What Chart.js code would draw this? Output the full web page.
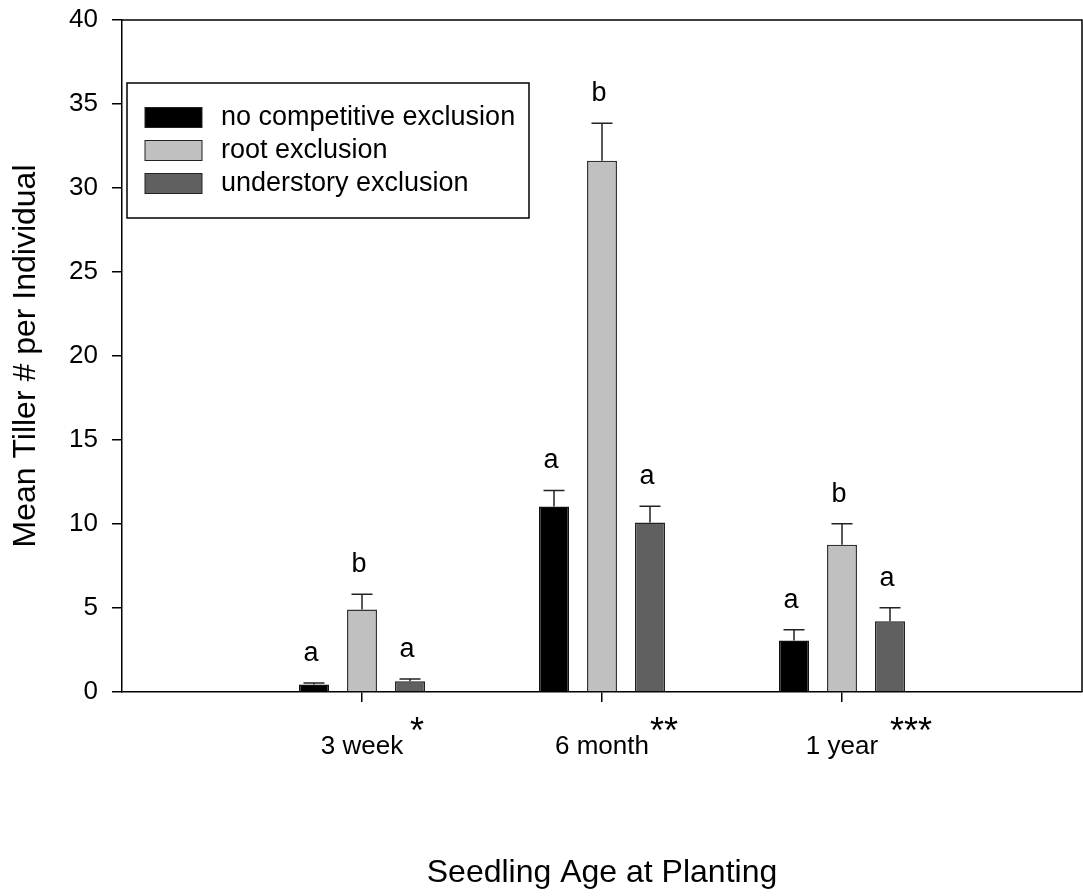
<!DOCTYPE html>
<html>
<head>
<meta charset="utf-8">
<script src="https://cdn.jsdelivr.net/npm/chart.js@4.4.1/dist/chart.umd.min.js"></script>
<style>
  html, body { margin: 0; padding: 0; background: #ffffff; }
  #wrap { width: 1083px; height: 896px; }
</style>
</head>
<body>
<div id="wrap"><canvas id="c" width="1083" height="896"></canvas></div>
<script>
// Seedling age groups (empty slots pad the axis on both sides)
const categories = ['', '3 week', '6 month', '1 year', ''];
const significance = ['', '*', '**', '***', ''];

// Mean tiller counts per individual
const noExclusion = [null, 0.44, 11.04, 3.06, null];
const rootExclusion = [null, 4.91, 31.62, 8.76, null];
const understoryExclusion = [null, 0.64, 10.09, 4.21, null];

// Standard errors (upper bars only)
const noExclusionSE = [null, 0.10, 0.96, 0.65, null];
const rootExclusionSE = [null, 0.91, 2.23, 1.25, null];
const understoryExclusionSE = [null, 0.13, 0.97, 0.81, null];

// Post-hoc group letters
const noExclusionLetters = ['', 'a', 'a', 'a', ''];
const rootExclusionLetters = ['', 'b', 'b', 'b', ''];
const understoryExclusionLetters = ['', 'a', 'a', 'a', ''];

const yTicks = [0, 5, 10, 15, 20, 25, 30, 35, 40];

const FONT = '"Liberation Sans", Arial, Helvetica, sans-serif';

// Error bars and significance letters drawn on top of each bar
const errorBarPlugin = {
  id: 'errorBars',
  afterDatasetsDraw(chart) {
    const ctx = chart.ctx;
    const y = chart.scales.y;
    chart.data.datasets.forEach((ds, di) => {
      const meta = chart.getDatasetMeta(di);
      meta.data.forEach((bar, i) => {
        const v = ds.data[i];
        if (v === null || v === undefined) return;
        const se = ds.se[i];
        const top = y.getPixelForValue(v + se);
        const base = y.getPixelForValue(v);
        ctx.save();
        ctx.strokeStyle = '#222';
        ctx.lineWidth = 1.5;
        ctx.beginPath();
        ctx.moveTo(bar.x, base);
        ctx.lineTo(bar.x, top);
        ctx.moveTo(bar.x - 10.5, top);
        ctx.lineTo(bar.x + 10.5, top);
        ctx.stroke();
        ctx.fillStyle = '#000';
        ctx.font = '27px ' + FONT;
        ctx.textAlign = 'center';
        ctx.textBaseline = 'alphabetic';
        ctx.fillText(ds.letters[i], bar.x - 3, top - 22);
        ctx.restore();
      });
    });
  }
};

// Closed frame plus the raised significance asterisks beside the age labels
const framePlugin = {
  id: 'frame',
  afterDraw(chart) {
    const ctx = chart.ctx;
    const a = chart.chartArea;
    ctx.save();
    ctx.strokeStyle = '#000';
    ctx.lineWidth = 1.5;
    ctx.beginPath();
    ctx.moveTo(a.left, a.top);
    ctx.lineTo(a.right, a.top);
    ctx.lineTo(a.right, a.bottom);
    ctx.stroke();

    const xs = chart.scales.x;
    ctx.fillStyle = '#000';
    ctx.font = '36px ' + FONT;
    ctx.textAlign = 'left';
    ctx.textBaseline = 'middle';
    categories.forEach((lab, i) => {
      if (!significance[i]) return;
      const px = xs.getPixelForTick(i);
      ctx.fillText(significance[i], px + 48, 733);
    });
    ctx.restore();
  }
};

// Boxed legend inside the upper left of the plot
const boxLegendPlugin = {
  id: 'boxLegend',
  afterDraw(chart) {
    const ctx = chart.ctx;
    const a = chart.chartArea;
    const bx = a.left + 5, by = a.top + 63, bw = 402, bh = 135;
    ctx.save();
    ctx.fillStyle = '#fff';
    ctx.fillRect(bx, by, bw, bh);
    ctx.strokeStyle = '#000';
    ctx.lineWidth = 1.5;
    ctx.strokeRect(bx, by, bw, bh);
    ctx.font = '27px ' + FONT;
    ctx.textAlign = 'left';
    ctx.textBaseline = 'middle';
    chart.data.datasets.forEach((ds, i) => {
      const cy = by + 34.5 + i * 33;
      ctx.fillStyle = ds.backgroundColor;
      ctx.fillRect(bx + 18, cy - 10, 57, 20);
      ctx.strokeStyle = '#222';
      ctx.lineWidth = 1;
      ctx.strokeRect(bx + 18, cy - 10, 57, 20);
      ctx.fillStyle = '#000';
      ctx.fillText(ds.label, bx + 94, cy);
    });
    ctx.restore();
  }
};

new Chart(document.getElementById('c'), {
  type: 'bar',
  data: {
    labels: categories,
    datasets: [
      { label: 'no competitive exclusion', data: noExclusion, se: noExclusionSE, letters: noExclusionLetters,
        backgroundColor: '#000000', borderColor: '#111', borderWidth: 1.5 },
      { label: 'root exclusion', data: rootExclusion, se: rootExclusionSE, letters: rootExclusionLetters,
        backgroundColor: '#c0c0c0', borderColor: '#333', borderWidth: 1.5 },
      { label: 'understory exclusion', data: understoryExclusion, se: understoryExclusionSE, letters: understoryExclusionLetters,
        backgroundColor: '#606060', borderColor: '#222', borderWidth: 1.5 }
    ]
  },
  options: {
    responsive: false,
    animation: false,
    categoryPercentage: 0.6,
    barPercentage: 0.625,
    layout: { padding: { top: 20, right: 1, left: 0, bottom: 0 } },
    plugins: { legend: { display: false }, tooltip: { enabled: false } },
    scales: {
      x: {
        type: 'category',
        offset: false,
        afterFit(s) { s.height = 204; s.paddingLeft = 0; s.paddingRight = 0; },
        grid: {
          offset: false,
          drawOnChartArea: false,
          drawTicks: true,
          tickLength: 10,
          lineWidth: 1.5,
          color: (c) => (categories[c.index] ? '#000' : 'rgba(0,0,0,0)')
        },
        border: { display: true, color: '#000', width: 1.5 },
        ticks: { color: '#000', font: { family: FONT, size: 26 }, padding: 29, maxRotation: 0, autoSkip: false },
        title: { display: true, text: 'Seedling Age at Planting', color: '#000',
                 font: { family: FONT, size: 32 }, padding: { top: 0, bottom: 4 } }
      },
      y: {
        min: 0,
        max: 40,
        afterFit(s) { s.width = 122; s.paddingTop = 0; s.paddingBottom = 0; },
        afterBuildTicks(s) { s.ticks = yTicks.map(v => ({ value: v })); },
        grid: { drawOnChartArea: false, drawTicks: true, tickLength: 10, lineWidth: 1.5, color: '#000' },
        border: { display: true, color: '#000', width: 1.5 },
        ticks: { color: '#000', font: { family: FONT, size: 26 }, padding: 14 },
        title: { display: true, text: 'Mean Tiller # per Individual', color: '#000',
                 font: { family: FONT, size: 32 }, padding: { top: 7, bottom: 0 } }
      }
    }
  },
  plugins: [errorBarPlugin, framePlugin, boxLegendPlugin]
});
</script>
</body>
</html>
